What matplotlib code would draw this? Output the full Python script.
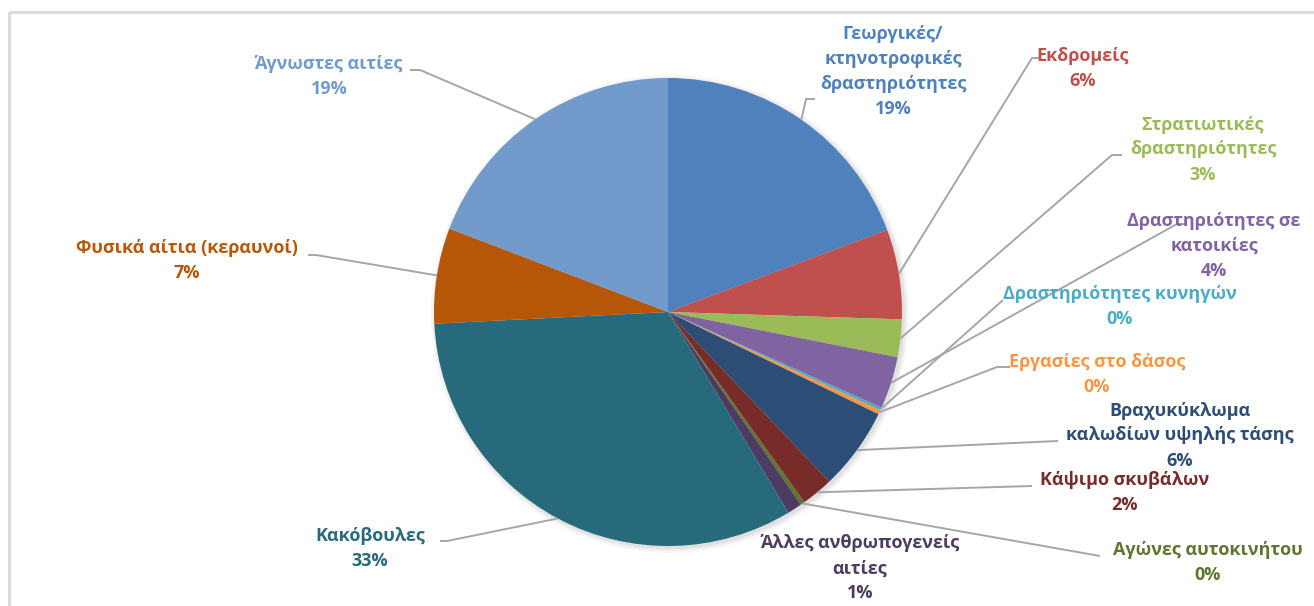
import numpy as np
import matplotlib
matplotlib.use("Agg")
import matplotlib.pyplot as plt
from matplotlib.patches import Rectangle, Circle

# data (percent share of fire causes)
causes = [
    "Γεωργικές/\nκτηνοτροφικές\nδραστηριότητες",
    "Εκδρομείς",
    "Στρατιωτικές\nδραστηριότητες",
    "Δραστηριότητες σε\nκατοικίες",
    "Δραστηριότητες κυνηγών",
    "Εργασίες στο δάσος",
    "Βραχυκύκλωμα\nκαλωδίων υψηλής τάσης",
    "Κάψιμο σκυβάλων",
    "Αγώνες αυτοκινήτου",
    "Άλλες ανθρωπογενείς\nαιτίες",
    "Κακόβουλες",
    "Φυσικά αίτια (κεραυνοί)",
    "Άγνωστες αιτίες",
]
shares = [19.3, 6.2, 2.6, 3.6, 0.2, 0.3, 5.7, 2.2, 0.3, 1.0, 32.8, 6.6, 19.2]
colors = ["#4F81BD", "#C0504D", "#9BBB59", "#8064A2", "#4BACC6", "#F79646",
          "#2C4D75", "#772C2A", "#5F7530", "#4D3B62", "#276A7C", "#B65708",
          "#729ACA"]

# label layout in pixel coords: text centre x, first line y, leader elbow, leader tail x
label_pos = [
    (893, 30), (1083, 55), (1203, 122), (1214, 218), (1120, 293), (1097, 361),
    (1180, 408), (1125, 479), (1208, 549), (860, 541), (370, 535), (187, 247),
    (329, 63),
]
leaders = [
    ((806, 99), 815), ((1032, 58), 1040), ((1112, 155), 1122), ((1177, 224), 1187),
    ((1003, 300), 1003), ((997, 367), 1010), ((1058, 441), 1058), ((1032, 486), 1032),
    ((1100, 556), 1100), None, ((447, 541), 440), ((316, 255), 308), ((420, 70), 410),
]

W, H = 1314, 606
CX, CY, R = 668, 312, 234
LINE = 27.5

plt.rcParams["font.family"] = ["Open Sans", "DejaVu Sans"]

fig = plt.figure(figsize=(W / 100, H / 100), dpi=100)
ax = fig.add_axes([0, 0, 1, 1])

# chart frame
ax.add_patch(Rectangle((9, 12), W + 20, H + 20, fill=False, ec="#D9D9D9", lw=2))

# soft shadow
for k, a in enumerate([0.05, 0.04, 0.03]):
    ax.add_patch(Circle((CX + 2, CY + 2), R + 1 + k * 2, color="black", alpha=a, lw=0))

wedges, _ = ax.pie(shares, colors=colors, startangle=90, counterclock=False,
                   center=(CX, CY), radius=R, frame=True,
                   wedgeprops=dict(linewidth=0))
# y axis is flipped, so mirror the pie vertically
for w in wedges:
    t1, t2 = w.theta1, w.theta2
    w.set_theta1(-t2)
    w.set_theta2(-t1)
ax.set_xlim(0, W)
ax.set_ylim(H, 0)
ax.set_aspect("equal")
ax.axis("off")

total = sum(shares)
for i, (name, val) in enumerate(zip(causes, shares)):
    pct = 100 * val / total
    text = f"{name}\n{pct:.0f}%"
    nlines = text.count("\n") + 1
    tx, ty = label_pos[i]
    ax.text(tx, ty + (nlines - 1) * LINE / 2, text, ha="center", va="center",
            multialignment="center", color=colors[i], fontsize=13,
            fontweight="bold", linespacing=1.5)
    if leaders[i] is None:
        continue
    w = wedges[i]
    mid = np.deg2rad((w.theta1 + w.theta2) / 2)
    sx = CX + R * np.cos(mid)
    sy = CY + R * np.sin(mid)
    (ex, ey), tail = leaders[i]
    ax.plot([sx, ex, tail], [sy, ey, ey], color="#A6A6A6", lw=1.4,
            solid_capstyle="butt", zorder=1)

fig.savefig("out.png", dpi=100)
